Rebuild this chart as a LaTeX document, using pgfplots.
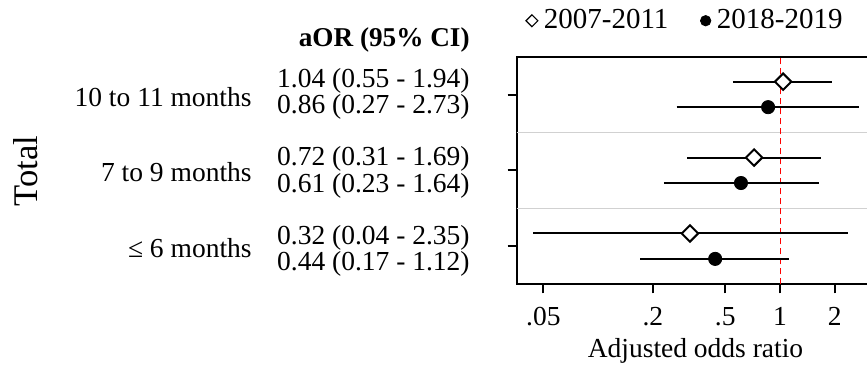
\documentclass[border=0pt]{standalone}
\usepackage{fontspec}
\setmainfont{Liberation Serif}
\usepackage{pgfplots}
\pgfplotsset{compat=1.18}
\pgfplotsset{mylegimg/.style={legend image code/.code={\draw[##1] plot coordinates {(0pt,0pt)};}}}
\begin{document}
\fontsize{13.75}{16}\selectfont
\begin{tikzpicture}[font=\fontsize{13.75}{16}\selectfont]
\useasboundingbox (0pt,0pt) rectangle (433.5pt,184.5pt);
\begin{axis}[
  at={(258.35pt,42.35pt)}, anchor=south west,
  scale only axis, width=176.1pt, height=113.8pt,
  xmode=log, xmin=0.0357, xmax=3.08, ymin=0.5, ymax=3.5,
  xtick={0.05,0.2,0.5,1,2}, xticklabels={.05,.2,.5,1,2},
  ytick={1,2,3}, yticklabels={},
  tick align=outside, major tick length=4.5pt,
  tick style={line width=1pt, black},
  xtick pos=lower, ytick pos=left,
  axis line style={line width=1pt},
  xticklabel style={font=\fontsize{13.75}{16}\selectfont, anchor=base, yshift=-16pt},
  legend style={at={(axis description cs:0.0264,1.158)}, anchor=west, draw=none, fill=none,
    inner sep=0pt, outer sep=0pt, font=\fontsize{14.5}{16}\selectfont,
    nodes={inner sep=0pt},
    /tikz/every odd column/.append style={column sep=3pt},
    /tikz/every even column/.append style={column sep=16pt}},
  legend columns=2,
]
% separators
\addplot[draw=black!18, line width=0.5pt, forget plot] coordinates {(0.0357,1.5) (3.08,1.5)};
\addplot[draw=black!18, line width=0.5pt, forget plot] coordinates {(0.0357,2.5) (3.08,2.5)};
% reference line
\addplot[red, line width=0.5pt, dash pattern=on 3.3pt off 1.7pt, forget plot] coordinates {(1,0.5) (1,3.5)};
% confidence intervals 2007-2011
\addplot[black, line width=1pt, forget plot] coordinates {(0.55,3.17) (1.94,3.17)};
\addplot[black, line width=1pt, forget plot] coordinates {(0.31,2.17) (1.69,2.17)};
\addplot[black, line width=1pt, forget plot] coordinates {(0.044,1.17) (2.35,1.17)};
% confidence intervals 2018-2019
\addplot[black, line width=1pt, forget plot] coordinates {(0.27,2.835) (2.73,2.835)};
\addplot[black, line width=1pt, forget plot] coordinates {(0.23,1.835) (1.64,1.835)};
\addplot[black, line width=1pt, forget plot] coordinates {(0.17,0.835) (1.12,0.835)};
% point estimates
\addplot[only marks, mark=square*, mark size=2.9pt, mark options={rotate=45, fill=white, draw=black, line width=1pt}, forget plot]
  coordinates {(1.04,3.17) (0.72,2.17) (0.32,1.17)};
\addplot[only marks, mark=*, mark size=3.3pt, mark options={fill=black, draw=black}, forget plot]
  coordinates {(0.86,2.835) (0.61,1.835) (0.44,0.835)};
% legend
\addlegendimage{mylegimg, black, mark=square*, mark size=2.1pt, mark options={rotate=45, fill=white, draw=black, line width=0.6pt}}
\addlegendentry{2007-2011}
\addlegendimage{mylegimg, black, mark=*, mark size=2.6pt, mark options={fill=black, draw=black}}
\addlegendentry{2018-2019}
\end{axis}
\node[anchor=base] at (347.75pt,5.5pt) {Adjusted odds ratio};
\node[rotate=90, font=\fontsize{17.3}{20}\selectfont] at (13pt,99pt) {Total};
\begin{scope}[every node/.style={inner sep=0pt, anchor=base east}]
\node[font=\fontsize{13.6}{16}\selectfont\bfseries] at (235pt,161pt) {aOR (95\% CI)};
% group labels
\node at (126pt,131pt) {10 to 11 months};
\node at (126pt,93.5pt) {7 to 9 months};
\node at (126pt,55.5pt) {≤ 6 months};
% estimates text
\node at (235pt,140.5pt) {1.04 (0.55 - 1.94)};
\node at (235pt,127.5pt) {0.86 (0.27 - 2.73)};
\node at (235pt,101.5pt) {0.72 (0.31 - 1.69)};
\node at (235pt,88pt) {0.61 (0.23 - 1.64)};
\node at (235pt,62pt) {0.32 (0.04 - 2.35)};
\node at (235pt,49pt) {0.44 (0.17 - 1.12)};
\end{scope}
\end{tikzpicture}
\end{document}
